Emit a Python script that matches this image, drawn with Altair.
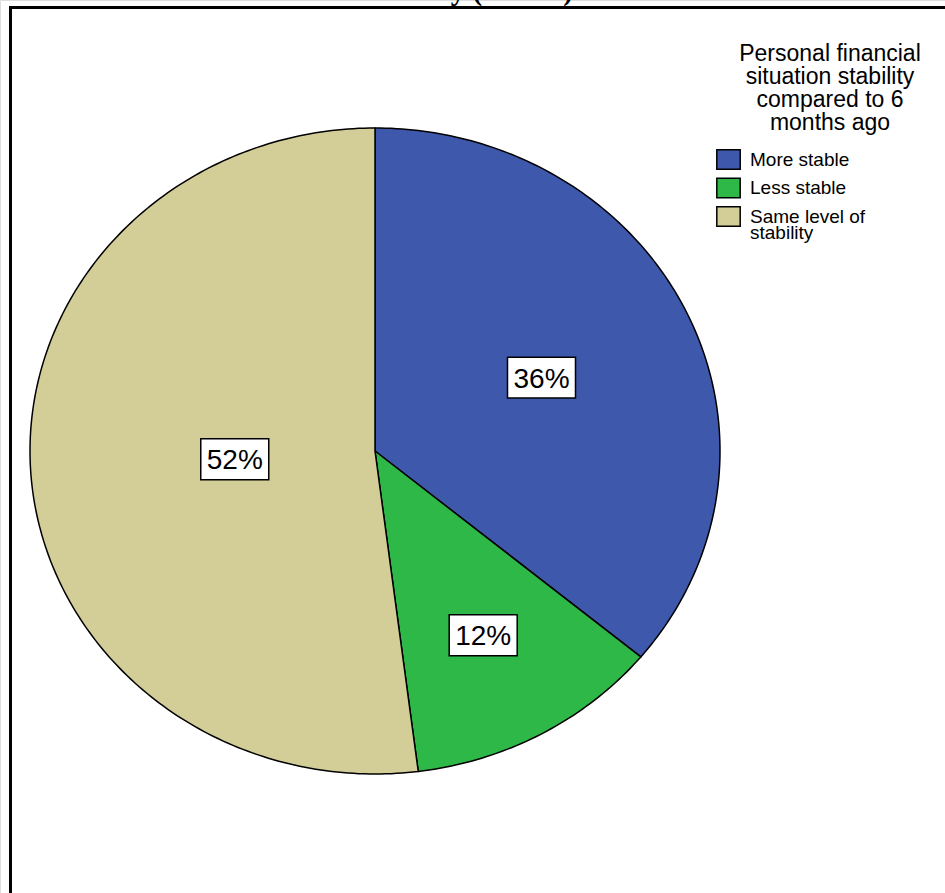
import altair as alt
import numpy as np
import pandas as pd

# ---- data ----
categories = ["More stable", "Less stable", "Same level of stability"]
percents = [36, 12, 52]
colors = ["#3E58AC", "#2EB848", "#D3CE97"]
legend_title = ["Personal financial", "situation stability", "compared to 6", "months ago"]
top_title = "survey (N=100)"

# ---- pie geometry (derived from the percentages) ----
rows = []
label_rows = []
start = 0.0
for cat, p in zip(categories, percents):
    a0 = start / 100 * 2 * np.pi
    a1 = (start + p) / 100 * 2 * np.pi
    n = max(int(p * 4), 4)
    angs = np.linspace(a0, a1, n + 1)
    pts = [(0.0, 0.0)] + [(np.sin(a), np.cos(a)) for a in angs] + [(0.0, 0.0)]
    for i, (x, y) in enumerate(pts):
        rows.append({"category": cat, "i": i, "x": x, "y": y})
    half = (a1 - a0) / 2
    mid = a0 + half
    rc = 2 / 3 * np.sin(half) / half
    label_rows.append({"category": cat, "label": f"{p}%",
                       "x": rc * np.sin(mid), "y": rc * np.cos(mid)})
    start += p

pie_df = pd.DataFrame(rows)
lab_df = pd.DataFrame(label_rows)
one = pd.DataFrame({"k": [0]})

xs = alt.Scale(domain=[-1, 1], range=[30, 720], nice=False, zero=False)
ys = alt.Scale(domain=[-1, 1], range=[774, 128], nice=False, zero=False)

pie = alt.Chart(pie_df).mark_line(
    filled=True, stroke="black", strokeWidth=1.5, strokeJoin="round", fillOpacity=1
).encode(
    x=alt.X("x:Q", scale=xs, axis=None),
    y=alt.Y("y:Q", scale=ys, axis=None),
    order=alt.Order("i:Q"),
    color=alt.Color(
        "category:N",
        scale=alt.Scale(domain=categories, range=colors),
        legend=alt.Legend(
            title=None, orient="none", legendX=718, legendY=149, padding=0,
            symbolType="M-1.2,-1H1.2V1H-1.2Z", symbolSize=380,
            symbolStrokeColor="black", symbolStrokeWidth=1.5, symbolOpacity=1,
            labelFont="Liberation Sans", labelFontSize=19, labelColor="black",
            labelLimit=400, labelOffset=11, rowPadding=1.5,
            labelExpr="datum.label == 'Same level of stability' ? ['Same level of', 'stability'] : datum.label",
        ),
    ),
)

boxes = alt.Chart(lab_df).mark_point(
    shape="M-1,-0.6H1V0.6H-1Z", size=68 * 68, filled=True, fill="white",
    stroke="black", strokeWidth=1.5, opacity=1
).encode(
    x=alt.X("x:Q", scale=xs, axis=None),
    y=alt.Y("y:Q", scale=ys, axis=None),
)

texts = alt.Chart(lab_df).mark_text(
    font="Liberation Sans", fontSize=28, align="center", baseline="alphabetic",
    dy=10, color="black"
).encode(
    x=alt.X("x:Q", scale=xs, axis=None),
    y=alt.Y("y:Q", scale=ys, axis=None),
    text="label:N",
)

ltitle = alt.Chart(one).mark_text(
    text=legend_title, font="Liberation Sans", fontSize=23, lineHeight=23,
    align="center", baseline="alphabetic", color="black"
).encode(x=alt.value(830), y=alt.value(61))

ttitle = alt.Chart(one).mark_text(
    text=top_title, font="Liberation Serif", fontSize=29, fontWeight="bold",
    align="center", baseline="alphabetic", color="black"
).encode(x=alt.value(478), y=alt.value(0))

frame = alt.Chart(one).mark_rect(
    fill=None, stroke="black", strokeWidth=3
).encode(x=alt.value(10.5), x2=alt.value(1000), y=alt.value(7.5), y2=alt.value(1000))

chart = alt.layer(pie, boxes, texts, ltitle, ttitle, frame).properties(
    width=945, height=893, padding=0,
    autosize=alt.AutoSizeParams(type="none"),
).configure_view(stroke=None).configure(
    style={"guide-label": {"lineHeight": 16}}
)

chart.save("out.html", embed_options={"renderer": "svg", "actions": False})
